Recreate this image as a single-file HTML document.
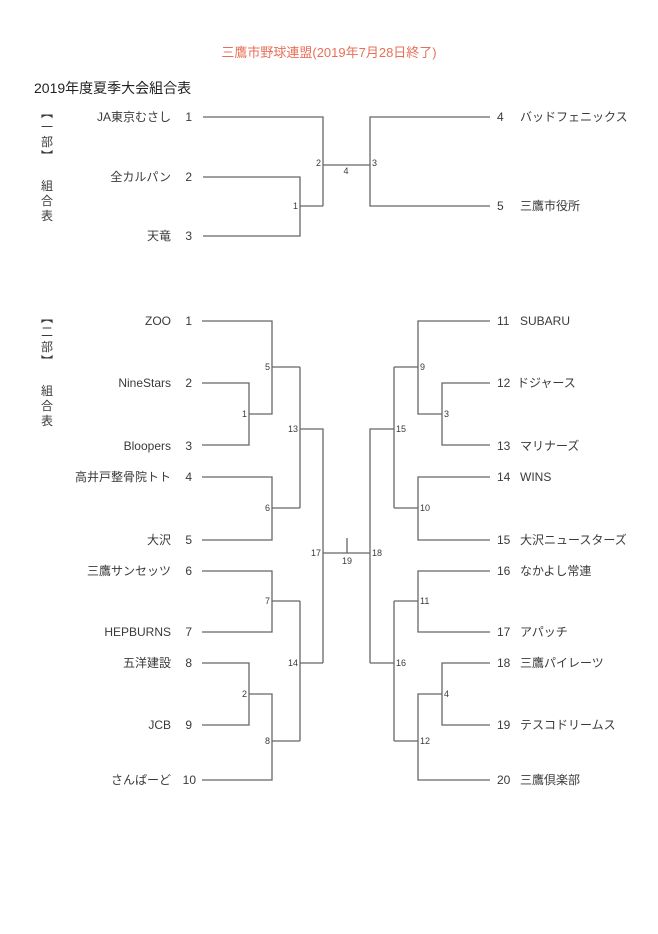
<!DOCTYPE html>
<html><head><meta charset="utf-8"><style>
html,body{margin:0;padding:0;background:#fff;}
svg{display:block}
text{font-family:"Liberation Sans","Noto Sans CJK JP",sans-serif;fill:#3a3a3a;}
.n{font-size:12px}
.s{font-size:9px;fill:#555}
</style></head><body>
<svg width="658" height="934" viewBox="0 0 658 934" xmlns="http://www.w3.org/2000/svg">
<rect width="658" height="934" fill="#fff"/>
<text x="329" y="57" text-anchor="middle" style="font-size:13px;fill:#e8705a;">三鷹市野球連盟(2019年7月28日終了)</text>
<text x="34" y="93" style="font-size:14px;fill:#222">2019年度夏季大会組合表</text>

<g style="font-size:12px" text-anchor="middle">
<text x="47" y="117">︻</text><text x="47" y="131">一</text><text x="47" y="146">部</text><text x="47" y="160">︼</text>
<text x="47" y="190">組</text><text x="47" y="205">合</text><text x="47" y="220">表</text>
<text x="47" y="322">︻</text><text x="47" y="336">二</text><text x="47" y="351">部</text><text x="47" y="365">︼</text>
<text x="47" y="395">組</text><text x="47" y="410">合</text><text x="47" y="425">表</text>
</g>

<g stroke="#666" stroke-width="1.3" fill="none">
<path d="M203 117H323V206M203 177H300V236H203M300 206H323M323 165H370M490 117H370V206H490"/>
<path d="M202 321H272V414H249M202 383H249V445H202M272 367H300M202 477H272V540H202M272 508H300M300 367V508M300 429H323V663"/>
<path d="M202 571H272V632H202M272 601H300M202 663H249V725H202M249 694H272V780H202M272 741H300M300 601V741M300 663H323"/>
<path d="M323 553H370M347 538V553"/>
<path d="M490 321H418V414H442M490 383H442V445H490M418 367H394M490 477H418V540H490M418 508H394M394 367V508M394 429H370V663"/>
<path d="M490 571H418V632H490M418 601H394M490 663H442V725H490M442 694H418V780H490M418 741H394M394 601V741M394 663H370"/>
</g>

<g class="n" text-anchor="end">
<text x="171" y="121">JA東京むさし</text><text x="192" y="121">1</text>
<text x="171" y="181">全カルパン</text><text x="192" y="181">2</text>
<text x="171" y="240">天竜</text><text x="192" y="240">3</text>
<text x="171" y="325">ZOO</text><text x="192" y="325">1</text>
<text x="171" y="387">NineStars</text><text x="192" y="387">2</text>
<text x="171" y="450">Bloopers</text><text x="192" y="450">3</text>
<text x="171" y="481">高井戸整骨院トト</text><text x="192" y="481">4</text>
<text x="171" y="544">大沢</text><text x="192" y="544">5</text>
<text x="171" y="575">三鷹サンセッツ</text><text x="192" y="575">6</text>
<text x="171" y="636">HEPBURNS</text><text x="192" y="636">7</text>
<text x="171" y="667">五洋建設</text><text x="192" y="667">8</text>
<text x="171" y="729">JCB</text><text x="192" y="729">9</text>
<text x="171" y="784">さんぱーど</text><text x="196" y="784">10</text>
</g>
<g class="n">
<text x="497" y="121">4</text><text x="520" y="121">バッドフェニックス</text>
<text x="497" y="210">5</text><text x="520" y="210">三鷹市役所</text>
<text x="497" y="325">11</text><text x="520" y="325">SUBARU</text>
<text x="497" y="387">12</text><text x="517" y="387">ドジャース</text>
<text x="497" y="450">13</text><text x="520" y="450">マリナーズ</text>
<text x="497" y="481">14</text><text x="520" y="481">WINS</text>
<text x="497" y="544">15</text><text x="520" y="544">大沢ニュースターズ</text>
<text x="497" y="575">16</text><text x="520" y="575">なかよし常連</text>
<text x="497" y="636">17</text><text x="520" y="636">アパッチ</text>
<text x="497" y="667">18</text><text x="520" y="667">三鷹パイレーツ</text>
<text x="497" y="729">19</text><text x="520" y="729">テスコドリームス</text>
<text x="497" y="784">20</text><text x="520" y="784">三鷹倶楽部</text>
</g>
<g class="s">
<text x="321" y="166" text-anchor="end">2</text>
<text x="298" y="209" text-anchor="end">1</text>
<text x="346" y="174" text-anchor="middle">4</text>
<text x="372" y="166">3</text>
<text x="270" y="370" text-anchor="end">5</text>
<text x="247" y="417" text-anchor="end">1</text>
<text x="298" y="432" text-anchor="end">13</text>
<text x="270" y="511" text-anchor="end">6</text>
<text x="321" y="556" text-anchor="end">17</text>
<text x="347" y="564" text-anchor="middle">19</text>
<text x="372" y="556">18</text>
<text x="270" y="604" text-anchor="end">7</text>
<text x="298" y="666" text-anchor="end">14</text>
<text x="247" y="697" text-anchor="end">2</text>
<text x="270" y="744" text-anchor="end">8</text>
<text x="420" y="370">9</text>
<text x="444" y="417">3</text>
<text x="396" y="432">15</text>
<text x="420" y="511">10</text>
<text x="420" y="604">11</text>
<text x="396" y="666">16</text>
<text x="444" y="697">4</text>
<text x="420" y="744">12</text>
</g>
</svg>
</body></html>
